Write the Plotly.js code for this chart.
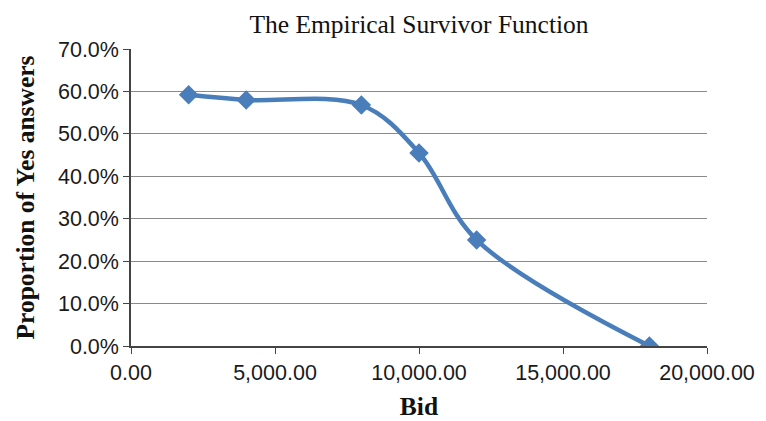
<!DOCTYPE html>
<html>
<head>
<meta charset="utf-8">
<script src="https://cdn.plot.ly/plotly-3.0.1.min.js"></script>
<style>
  html, body { margin: 0; padding: 0; background: #fff; }
  #chart { width: 766px; height: 421px; }
</style>
</head>
<body>
<div id="chart"></div>
<script>
// Bid amounts offered and the share of respondents answering "Yes"
const bids = [2000, 4000, 8000, 10000, 12000, 18000];
const yesShare = [0.592, 0.580, 0.568, 0.455, 0.250, 0.000];

const lineBlue = 'rgb(74,126,187)';
const serif = '"Liberation Serif", "Times New Roman", Times, serif';
const sans = 'Arial, "Liberation Sans", sans-serif';

const trace = {
  x: bids,
  y: yesShare,
  type: 'scatter',
  mode: 'lines+markers',
  line: { color: lineBlue, width: 4.5, shape: 'spline', smoothing: 1 },
  marker: { symbol: 'diamond', size: 15, color: lineBlue },
  hoverinfo: 'x+y'
};

const layout = {
  width: 766,
  height: 421,
  margin: { l: 131, r: 59, t: 49, b: 75 },
  paper_bgcolor: '#fff',
  plot_bgcolor: '#fff',
  showlegend: false,
  title: {
    text: 'The Empirical Survivor Function',
    font: { family: serif, size: 25.5, color: '#111' },
    x: 0.5, xref: 'paper', xanchor: 'center',
    y: 16, yref: 'container', yanchor: 'middle'
  },
  xaxis: {
    range: [0, 20000],
    tickvals: [0, 5000, 10000, 15000, 20000],
    tickformat: ',.2f',
    showgrid: false,
    zeroline: false,
    showline: true,
    linecolor: '#444',
    linewidth: 1.5,
    ticks: 'outside',
    ticklen: 6,
    tickcolor: '#444',
    tickfont: { family: sans, size: 21.5, color: '#1a1a1a' },
    title: {
      text: '<b>Bid</b>',
      font: { family: serif, size: 25.5, color: '#111' },
      standoff: 14
    }
  },
  yaxis: {
    range: [0, 0.7],
    dtick: 0.1,
    tickformat: '.1%',
    showgrid: true,
    gridcolor: '#8a8a8a',
    gridwidth: 1,
    zeroline: false,
    showline: true,
    linecolor: '#444',
    linewidth: 1.5,
    ticks: 'outside',
    ticklen: 6,
    tickcolor: '#444',
    tickfont: { family: sans, size: 21.5, color: '#1a1a1a' },
    title: {
      text: '<b>Proportion of Yes answers</b>',
      font: { family: serif, size: 25.5, color: '#111' },
      standoff: 16
    }
  }
};

Plotly.newPlot('chart', [trace], layout, { displayModeBar: false, responsive: false });
</script>
</body>
</html>
